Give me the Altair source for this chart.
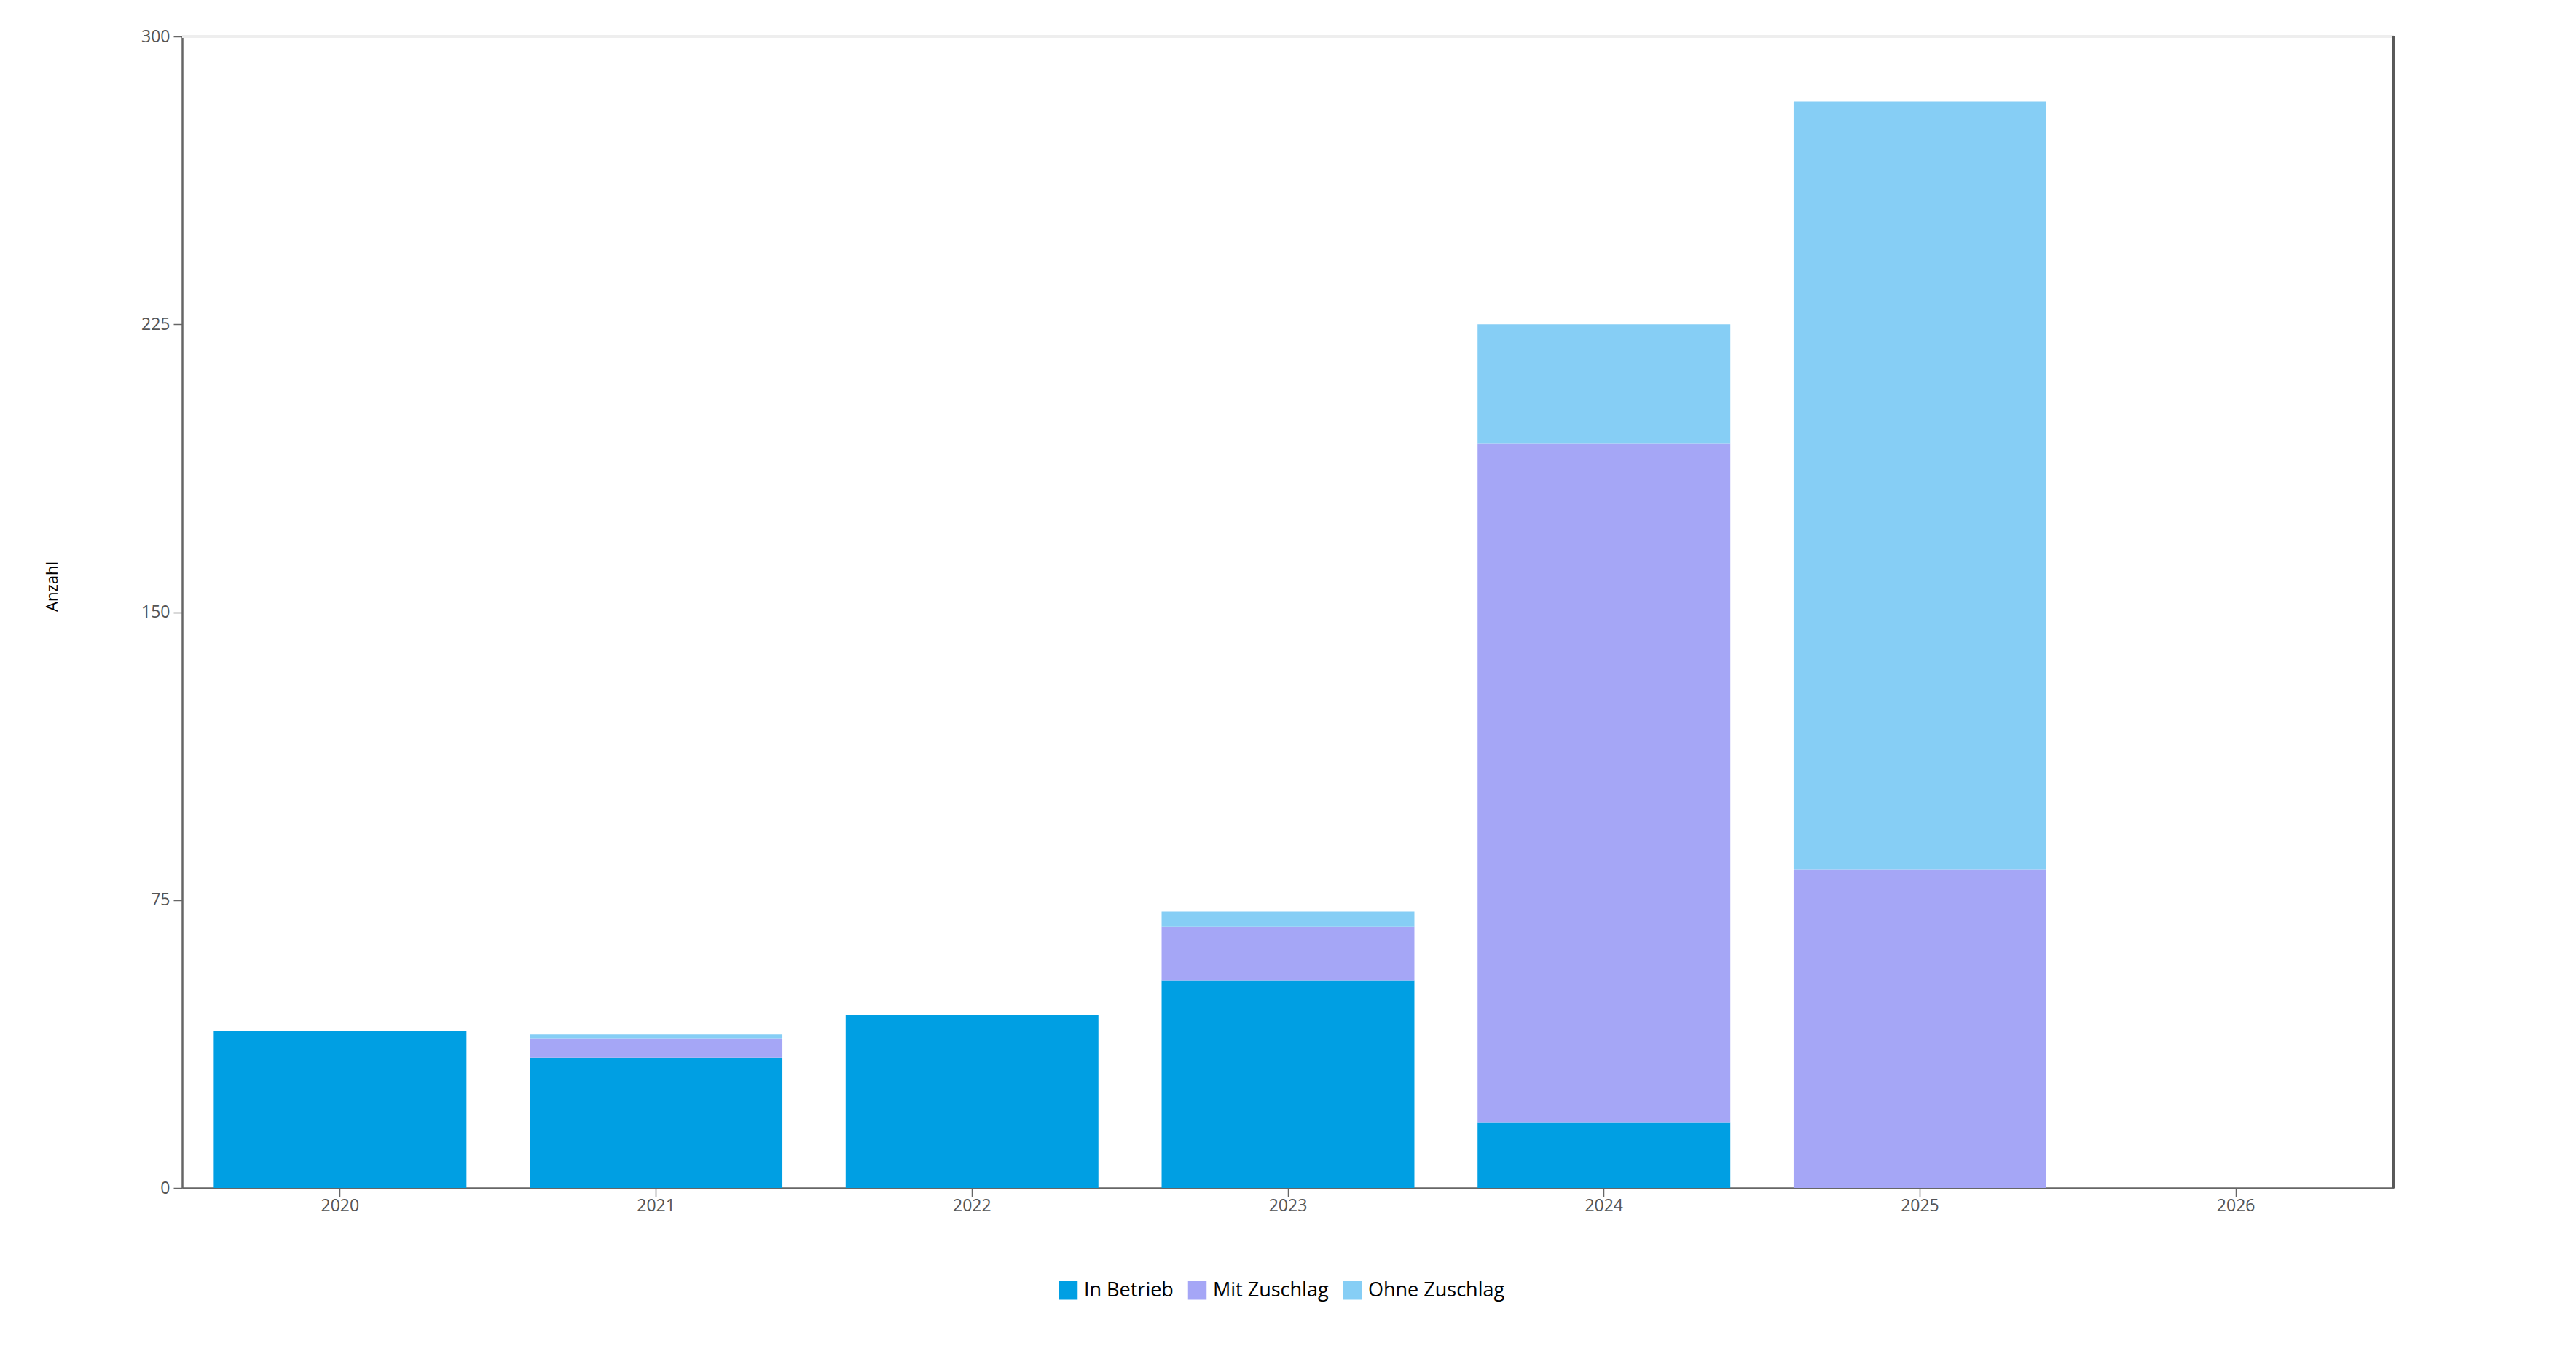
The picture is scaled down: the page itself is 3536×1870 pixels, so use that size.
import altair as alt
import pandas as pd

years = ["2020", "2021", "2022", "2023", "2024", "2025", "2026"]
series = ["In Betrieb", "Mit Zuschlag", "Ohne Zuschlag"]
in_betrieb = [41, 34, 45, 54, 17, 0, 0]
mit_zuschlag = [0, 5, 0, 14, 177, 83, 0]
ohne_zuschlag = [0, 1, 0, 4, 31, 200, 0]
colors = ["#009FE3", "#A5A6F6", "#86CEF5"]
y_ticks = [0, 75, 150, 225, 300]

rows = []
for i, y in enumerate(years):
    for k, (s, vals) in enumerate(zip(series, [in_betrieb, mit_zuschlag, ohne_zuschlag])):
        rows.append({"Jahr": y, "Status": s, "Anzahl": vals[i], "ord": k})
df = pd.DataFrame(rows)

FONT = "Open Sans"
W, H = 3036, 1581

bars = alt.Chart(df).mark_bar().encode(
    x=alt.X("Jahr:N", sort=years,
            scale=alt.Scale(domain=years, paddingInner=0.2, paddingOuter=0.1),
            axis=alt.Axis(title=None, labelAngle=0, labelFontSize=23, labelColor="#555555",
                          labelFont=FONT, tickSize=12, tickColor="#666666", tickWidth=1.5,
                          domainColor="#666666", domainWidth=2.5, labelPadding=1, grid=False)),
    y=alt.Y("Anzahl:Q", stack="zero",
            scale=alt.Scale(domain=[0, 300], nice=False),
            axis=alt.Axis(title="Anzahl", values=y_ticks, labelFontSize=23, labelColor="#555555",
                          labelFont=FONT, tickSize=12, tickColor="#666666", tickWidth=1.5,
                          domainColor="#666666", domainWidth=2.5, labelPadding=5, grid=False,
                          titleFont=FONT, titleFontSize=22, titleFontWeight="normal",
                          titleColor="#000000", titleAngle=270, titleAlign="center",
                          titleBaseline="middle", titleX=-179, titleY=755)),
    color=alt.Color("Status:N", sort=series,
                    scale=alt.Scale(domain=series, range=colors),
                    legend=alt.Legend(title=None, orient="none", direction="horizontal",
                                      columns=3, legendX=1203, legendY=1708, padding=0,
                                      symbolType="square", symbolSize=650, symbolStrokeWidth=0,
                                      labelFontSize=27, labelFont=FONT, labelColor="#000000",
                                      labelLimit=400, columnPadding=19, symbolOffset=0,
                                      labelOffset=8)),
    order=alt.Order("ord:Q", sort="ascending"),
)

top_line = alt.Chart(df).mark_rule(color="#eeeeee", strokeWidth=3).encode(
    y=alt.datum(300)
)

right_line = alt.Chart(df).mark_rule(color="#5a5a5a", strokeWidth=2.5).encode(
    x=alt.value(W), y=alt.value(0), y2=alt.value(H)
)

chart = alt.layer(bars, top_line, right_line).properties(
    width=W, height=H,
    autosize=alt.AutoSizeParams(type="none"),
    padding={"left": 242, "top": 42, "right": 200, "bottom": 200},
).configure_view(stroke=None).configure(background="white")

chart.save("out.html", embed_options={"renderer": "svg", "actions": False})
